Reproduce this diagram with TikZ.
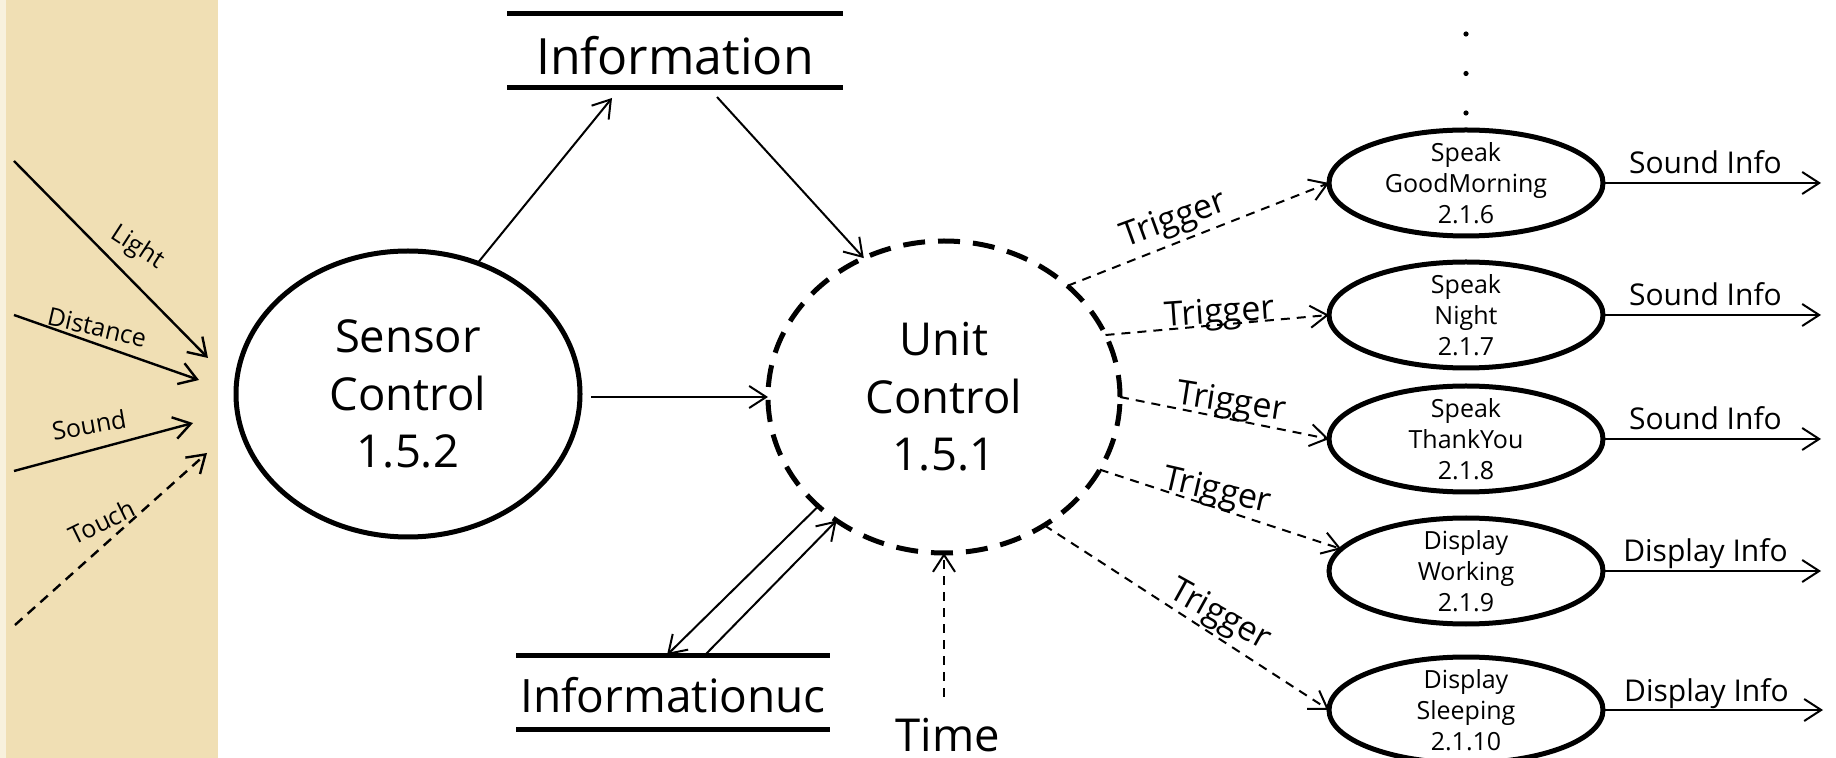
\documentclass[tikz,border=0pt]{standalone}
\usepackage{fontspec}
\setmainfont{Open Sans}
\usetikzlibrary{arrows.meta,shapes.geometric}
\definecolor{paper}{RGB}{240,223,180}

\begin{document}
\begin{tikzpicture}[x=0.5pt,y=-0.5pt,
  every node/.style={inner sep=0pt, outer sep=0pt},
  bub/.style={ellipse, draw, line width=2.5pt, align=center,
    font=\fontsize{22.7}{28.75}\selectfont},
  dashbub/.style={bub, dash pattern=on 11pt off 6.5pt},
  proc/.style={ellipse, draw, line width=2.5pt, minimum width=137pt,
    minimum height=53pt, inner xsep=0pt, inner ysep=-2pt, align=center,
    font=\fontsize{12.5}{15.5}\selectfont},
  store/.style={rectangle, text depth=0pt, minimum height=37pt},
  storeline/.style={line width=2.5pt},
  tip/.style={-{Straight Barb[length=8.5pt,width=11pt]}},
  flow/.style={tip, line width=1pt},
  trig/.style={flow, dash pattern=on 4.5pt off 3.5pt},
  sflow/.style={tip, line width=1.2pt},
  trlab/.style={font=\fontsize{17}{20}\selectfont, anchor=base},
  outlab/.style={font=\fontsize{15}{18}\selectfont, anchor=base},
  slab/.style={font=\fontsize{12.5}{15}\selectfont}
]
\useasboundingbox (0,0) rectangle (1836,758);

% paper strip on the left
\fill[paper!45] (0,0) rectangle (6,758);
\fill[paper] (6,0) rectangle (218,758);

% sensor inputs
\coordinate (l0) at (14,161);  \coordinate (l1) at (208,358);
\coordinate (d0) at (14,315);  \coordinate (d1) at (199,380);
\coordinate (s0) at (14,471);  \coordinate (s1) at (193,423);
\coordinate (t0) at (15,625);  \coordinate (t1) at (207,453);
\draw[sflow] (l0) -- (l1) node[slab, pos=0.634, yshift=19pt, rotate=-33] (lab-light) {Light};
\draw[sflow] (d0) -- (d1) node[slab, pos=0.449, yshift=8.5pt, rotate=-13] (lab-dist) {Distance};
\draw[sflow] (s0) -- (s1) node[slab, pos=0.419, yshift=13pt, rotate=10] (lab-sound) {Sound};
\draw[sflow, dash pattern=on 5pt off 3.5pt] (t0) -- (t1) node[slab, pos=0.453, yshift=12.5pt, rotate=26] (lab-touch) {Touch};

% data stores
\node[store, minimum width=168pt, text height=24pt, font=\fontsize{25}{30}\selectfont] (info) at (675,51) {Information};
\draw[storeline] (info.north west) -- (info.north east) (info.south west) -- (info.south east);
\node[store, minimum width=157pt, text height=20pt, font=\fontsize{23}{28}\selectfont] (infouc) at (673,692) {Informationuc};
\draw[storeline] (infouc.north west) -- (infouc.north east) (infouc.south west) -- (infouc.south east);

% control processes
\node[bub, minimum width=172pt, minimum height=143pt] (sc) at (408,394) {Sensor\\Control\\1.5.2};
\node[dashbub, minimum width=176pt, minimum height=156pt] (uc) at (944,397) {Unit\\Control\\1.5.1};

% output processes
\node[proc] (p1) at (1466,183) {Speak\\GoodMorning\\2.1.6};
\node[proc] (p2) at (1466,315) {Speak\\Night\\2.1.7};
\node[proc] (p3) at (1466,439) {Speak\\ThankYou\\2.1.8};
\node[proc] (p4) at (1466,571) {Display\\Working\\2.1.9};
\node[proc] (p5) at (1466,710) {Display\\Sleeping\\2.1.10};

% more processes above
\fill (1466,34) circle (1.3pt);
\fill (1466,73.5) circle (1.3pt);
\fill (1466,113) circle (1.3pt);

% time source
\node[font=\fontsize{22.7}{27}\selectfont, anchor=base] (time) at (948,751) {Time};

% flows between processes and stores
\draw[flow] (sc.62) -- ([xshift=-31.5pt,yshift=-5pt]info.south);
\draw[flow] ([xshift=21pt,yshift=-4.5pt]info.south) -- (uc.120);
\draw[flow, shorten <=5.5pt] (sc.east |- uc.west) -- (uc.west);
\draw[flow] (uc.-139) -- ([xshift=-3pt]infouc.north);
\draw[flow] ([xshift=16pt]infouc.north) -- (uc.-131.5);
\draw[trig, shorten <=10.5pt] (uc.south |- time.north) -- (uc.south);

% triggers
\draw[trig] (uc.42) -- (p1.west) node[trlab, pos=0.42, yshift=7pt, rotate=20] (tr1) {Trigger};
\draw[trig] (uc.21) -- (p2.west) node[trlab, pos=0.514, yshift=1pt, rotate=4] (tr2) {Trigger};
\draw[trig] (uc.0) -- (p3.west) node[trlab, pos=0.524, yshift=3.5pt, rotate=-9] (tr3) {Trigger};
\draw[trig] (uc.-25) -- (p4.170) node[trlab, pos=0.476, yshift=3.5pt, rotate=-13] (tr4) {Trigger};
\draw[trig] (uc.-52) -- (p5.west) node[trlab, pos=0.602, yshift=6.5pt, rotate=-29] (tr5) {Trigger};

% outputs
\coordinate (o1) at (1821,183);
\coordinate (o2) at (1821,315);
\coordinate (o3) at (1821,439);
\coordinate (o4) at (1821,571);
\coordinate (o5) at (1823,710);
\draw[flow] (p1.east) -- (o1) node[outlab, pos=0.47, yshift=4.5pt] (out1) {Sound Info};
\draw[flow] (p2.east) -- (o2) node[outlab, pos=0.47, yshift=4.5pt] (out2) {Sound Info};
\draw[flow] (p3.east) -- (o3) node[outlab, pos=0.47, yshift=4.5pt] (out3) {Sound Info};
\draw[flow] (p4.east) -- (o4) node[outlab, pos=0.47, yshift=4.5pt] (out4) {Display Info};
\draw[flow] (p5.east) -- (o5) node[outlab, pos=0.47, yshift=4.5pt] (out5) {Display Info};
\end{tikzpicture}
\end{document}
